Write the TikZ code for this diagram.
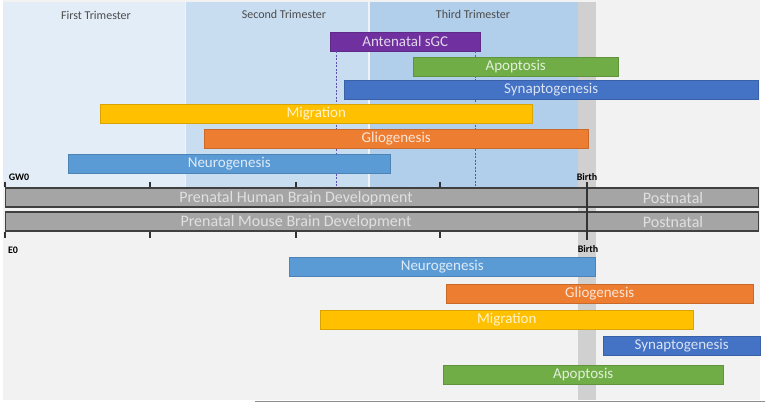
\documentclass[tikz,border=0pt]{standalone}
\usepackage{fontspec}
\setmainfont{Carlito}
\definecolor{cbg}{HTML}{F2F2F2}
\definecolor{ctri1}{HTML}{E3EDF7}
\definecolor{ctri2}{HTML}{C8DDF0}
\definecolor{ctri3}{HTML}{B1CFEA}
\definecolor{cband}{HTML}{D0D0D0}
\definecolor{cpurple}{HTML}{7030A0}
\definecolor{cgreen}{HTML}{70AD47}
\definecolor{csyn}{HTML}{4472C4}
\definecolor{cyellow}{HTML}{FFC000}
\definecolor{corange}{HTML}{ED7D31}
\definecolor{cneuro}{HTML}{5B9BD5}
\definecolor{cdev}{HTML}{A5A5A5}
\definecolor{cdash}{HTML}{6050B0}
\begin{document}
\begin{tikzpicture}[x=1pt,y=-1pt,
  barbox/.style={anchor=west, minimum height=19pt, inner sep=0pt, draw=#1!85!black, line width=0.5pt, fill=#1, text=white!80!#1, font=\fontsize{15}{15}\selectfont},
  devbar/.style={anchor=west, minimum height=19pt, inner sep=0pt, draw=black!75, line width=1.2pt, fill=cdev},
  devtext/.style={text=white!88!black, font=\fontsize{16}{16}\selectfont, inner sep=0pt},
  tritext/.style={text=black!70, font=\fontsize{12}{12}\selectfont, inner sep=0pt},
  axlabel/.style={text=black, font=\bfseries\fontsize{10}{10}\selectfont, inner sep=0pt},
  axisline/.style={draw=black!80, line width=1.2pt},
  sgcdash/.style={draw=cdash, line width=0.8pt, dash pattern=on 2pt off 1.5pt}]
\useasboundingbox (0,0) rectangle (765,403);
% background and periods
\fill[cbg] (3,0) rectangle (760,400);
\fill[ctri1] (3,2) rectangle (185,188);
\fill[ctri2] (186,2) rectangle (368,188);
\fill[ctri3] (370,2) rectangle (578,188);
\fill[cband] (578,2) rectangle (596,400);
\draw[black!45, line width=0.8pt] (255,401.5) -- (765,401.5);
\node[tritext] (t1) at (96,15) {First Trimester};
\node[tritext] (t2) at (284,14) {Second Trimester};
\node[tritext] (t3) at (473,14) {Third Trimester};
% human bars
\node[barbox=cpurple, minimum width=150pt] (sgc) at (330,41.5) {Antenatal sGC};
\coordinate (d1) at (336,188);
\coordinate (d2) at (475,188);
\draw[sgcdash] (sgc.south west -| d1) -- (d1);
\draw[sgcdash] (sgc.south west -| d2) -- (d2);
\node[barbox=cgreen, minimum width=205pt] (hapo) at (413,67) {Apoptosis};
\node[barbox=csyn, minimum width=414pt] (hsyn) at (344,90) {Synaptogenesis};
\node[barbox=cyellow, minimum width=432pt] (hmig) at (100,113.5) {Migration};
\node[barbox=corange, minimum width=384pt] (hglio) at (204,138.5) {Gliogenesis};
\node[barbox=cneuro, minimum width=322pt] (hneuro) at (68,164) {Neurogenesis};
% timelines
\node[axlabel] (gw0) at (19,177) {GW0};
\node[axlabel] (e0) at (13,250) {E0};
\node[devbar, minimum width=753pt] (human) at (5,197.5) {};
\node[devbar, minimum width=753pt] (mouse) at (5,221.5) {};
\node[devtext] (humanpre) at (296,198) {Prenatal Human Brain Development};
\node[devtext] (humanpost) at (673,198) {Postnatal};
\node[devtext] (mousepre) at (296,222) {Prenatal Mouse Brain Development};
\node[devtext] (mousepost) at (673,222) {Postnatal};
\foreach \i/\x in {a/5,b/150,c/296,d/440}{
  \coordinate (tt\i) at (\x,182);
  \coordinate (tb\i) at (\x,238);
  \draw[axisline] (tt\i) -- (tt\i |- human.north);
  \draw[axisline] (tb\i |- mouse.south) -- (tb\i);
}
\coordinate (birthtop) at (587,182);
\coordinate (birthbot) at (587,240);
\draw[axisline] (birthtop) -- (birthbot);
\node[axlabel] (birth1) at (587,177) {Birth};
\node[axlabel] (birth2) at (588,249) {Birth};
% mouse bars
\node[barbox=cneuro, minimum width=306pt] (mneuro) at (289,267) {Neurogenesis};
\node[barbox=corange, minimum width=307pt] (mglio) at (446,293.5) {Gliogenesis};
\node[barbox=cyellow, minimum width=373pt] (mmig) at (320,320) {Migration};
\node[barbox=csyn, minimum width=157pt] (msyn) at (603,346) {Synaptogenesis};
\node[barbox=cgreen, minimum width=280pt] (mapo) at (443,375) {Apoptosis};
\end{tikzpicture}
\end{document}
